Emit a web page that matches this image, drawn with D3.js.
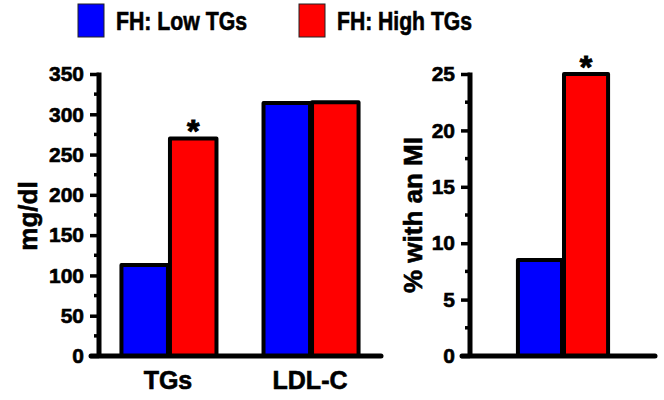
<!DOCTYPE html>
<html>
<head>
<meta charset="utf-8">
<script src="https://cdn.jsdelivr.net/npm/d3@7"></script>
<style>
  html, body { margin: 0; padding: 0; background: #fff; }
  svg { display: block; font-family: "Liberation Sans", Arial, sans-serif; font-weight: bold; }
  svg text { stroke: #000; stroke-width: 0.6px; fill: #000; }
</style>
</head>
<body>
<svg id="chart" width="664" height="400"></svg>
<script>
const seriesNames = ["FH: Low TGs", "FH: High TGs"];
const seriesColors = ["#0000ff", "#ff0000"];

const leftCategories = ["TGs", "LDL-C"];
const leftLow = [113, 314];
const leftHigh = [270, 315];
const leftSignificant = [true, false];
const leftTicks = [0, 50, 100, 150, 200, 250, 300, 350];

const rightCategories = ["MI"];
const rightLow = [8.5];
const rightHigh = [25];
const rightSignificant = [true];
const rightTicks = [0, 5, 10, 15, 20, 25];

const svg = d3.select("#chart");
const yTop = 74, yBottom = 356;

function panel(opts) {
  const g = svg.append("g");
  const y = d3.scaleLinear().domain([0, opts.max]).range([yBottom, yTop]);
  const x = d3.scaleBand().domain(opts.categories).range(opts.xRange)
    .paddingInner(opts.padIn).paddingOuter(opts.padOut);
  const sub = d3.scaleBand().domain([0, 1]).range([0, x.bandwidth()]);

  // bars
  opts.categories.forEach((c, i) => {
    const vals = [opts.low[i], opts.high[i]];
    vals.forEach((v, k) => {
      g.append("rect")
        .attr("x", x(c) + sub(k) + 2)
        .attr("y", y(v))
        .attr("width", sub.bandwidth() - 2)
        .attr("height", yBottom - y(v))
        .attr("fill", seriesColors[k])
        .attr("stroke", "#000")
        .attr("stroke-width", 4)
        .attr("stroke-linejoin", "round");
    });
    if (opts.sig[i]) {
      g.append("text")
        .attr("x", x(c) + sub(1) + sub.bandwidth() / 2 + 1)
        .attr("y", y(opts.high[i]) + 4)
        .attr("text-anchor", "middle")
        .attr("font-size", 32)
        .style("stroke-width", "1px")
        .text("*");
    }
  });

  // x axis line
  g.append("line")
    .attr("x1", opts.axisX - 8).attr("x2", opts.xEnd)
    .attr("y1", yBottom).attr("y2", yBottom)
    .attr("stroke", "#000").attr("stroke-width", 5).attr("stroke-linecap", "round");

  // y axis
  const axis = d3.axisLeft(y).tickValues(opts.ticks).tickSize(9).tickPadding(6)
    .tickFormat(d3.format("d"));
  const ag = g.append("g").attr("transform", `translate(${opts.axisX},0)`).call(axis);
  ag.select(".domain").remove();
  ag.selectAll(".tick line").attr("stroke", "#000").attr("stroke-width", 3.5);
  ag.selectAll(".tick text").attr("font-size", 21).attr("font-weight", "bold")
    .attr("font-family", "Liberation Sans, Arial, sans-serif").attr("fill", "#000");
  // minor ticks
  const minor = [];
  for (let i = 0; i < opts.ticks.length - 1; i++) minor.push((opts.ticks[i] + opts.ticks[i + 1]) / 2);
  g.selectAll(null).data(minor).enter().append("line")
    .attr("x1", opts.axisX - 5).attr("x2", opts.axisX)
    .attr("y1", d => y(d)).attr("y2", d => y(d))
    .attr("stroke", "#000").attr("stroke-width", 3.5);
  g.append("line")
    .attr("x1", opts.axisX).attr("x2", opts.axisX)
    .attr("y1", yTop - 1.5).attr("y2", yBottom)
    .attr("stroke", "#000").attr("stroke-width", 5);

  // category labels
  if (opts.showCats) {
    g.selectAll(null).data(opts.categories).enter().append("text")
      .attr("x", d => x(d) + x.bandwidth() / 2)
      .attr("y", 389)
      .attr("text-anchor", "middle")
      .attr("font-size", 25)
      .text(d => d);
  }

  // y label
  g.append("text")
    .attr("transform", `translate(${opts.labelX},${opts.labelY}) rotate(-90)`)
    .attr("text-anchor", "middle")
    .attr("font-size", 26)
    .text(opts.label);
}

panel({
  categories: leftCategories, low: leftLow, high: leftHigh, sig: leftSignificant,
  ticks: leftTicks, max: 350, xRange: [97, 381], padIn: 0.317, padOut: 0.158,
  axisX: 99, xEnd: 381, label: "mg/dl", labelX: 37, labelY: 216, showCats: true
});

panel({
  categories: rightCategories, low: rightLow, high: rightHigh, sig: rightSignificant,
  ticks: rightTicks, max: 25, xRange: [468, 656], padIn: 0, padOut: 0.52,
  axisX: 470, xEnd: 655, label: "% with an MI", labelX: 422, labelY: 215, showCats: false
});

// legend
const legendX = [78, 299];
const legendTextWidth = [131, 135];
seriesNames.forEach((n, i) => {
  svg.append("rect")
    .attr("x", legendX[i]).attr("y", 4).attr("width", 26).attr("height", 33)
    .attr("fill", seriesColors[i]).attr("stroke", "#222").attr("stroke-width", 1);
  svg.append("text")
    .attr("x", legendX[i] + 38).attr("y", 30)
    .attr("font-size", 25)
    .attr("textLength", legendTextWidth[i])
    .attr("lengthAdjust", "spacingAndGlyphs")
    .text(n);
});
</script>
</body>
</html>
